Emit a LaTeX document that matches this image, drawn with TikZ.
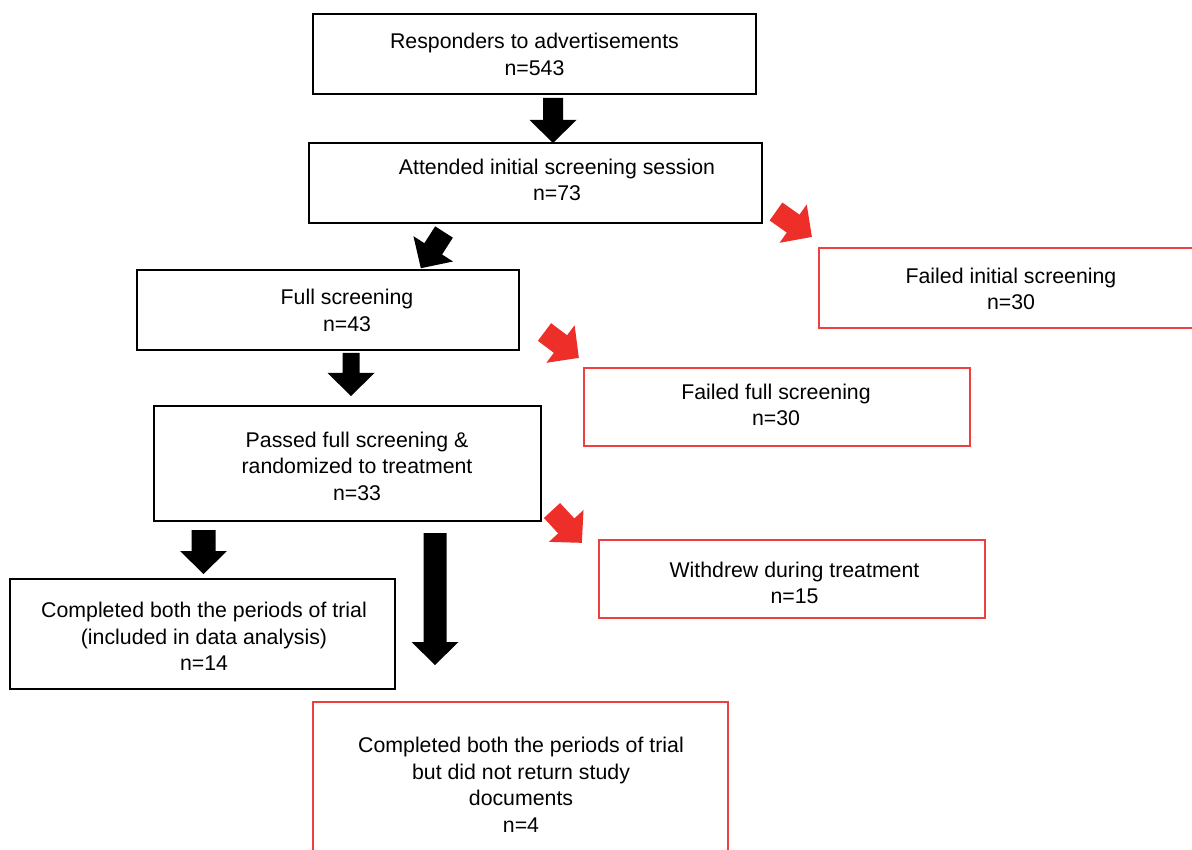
\documentclass[tikz,border=0pt]{standalone}
\usepackage{fontspec}
\setmainfont{Liberation Sans}
\definecolor{arrowred}{HTML}{EE2E28}
\definecolor{boxred}{HTML}{EE4040}
\tikzset{
  box/.style={draw=black, line width=1.3pt, rectangle, inner sep=0pt},
  redbox/.style={draw=boxred, line width=1.2pt, rectangle, inner sep=0pt},
  lbl/.style={align=center, inner sep=0pt, font=\fontsize{21.3}{26.5}\selectfont},
  pics/blockarrow/.style args={#1/#2}{code={
    \path[pic actions] (0,-#2) -- ({#1-23},-#2) -- ({#1-23},-23.5) -- (#1,0)
      -- ({#1-23},23.5) -- ({#1-23},#2) -- (0,#2) -- cycle;
  }},
  blk/.style={fill=black, draw=none},
  rdk/.style={fill=arrowred, draw=none},
}
\begin{document}
\begin{tikzpicture}[x=1pt,y=1pt]
\clip (0,0) rectangle (1192,-850);
\fill[white] (0,0) rectangle (1192,-850);
% boxes
\node[box, minimum width=443pt, minimum height=80pt] (b1) at (534.5,-54) {};
\node[box, minimum width=453pt, minimum height=80pt] (b2) at (535.5,-183) {};
\node[redbox, minimum width=381pt, minimum height=80pt] (b3) at (1009.5,-288) {};
\node[box, minimum width=382pt, minimum height=80pt] (b4) at (328,-310) {};
\node[redbox, minimum width=386pt, minimum height=78pt] (b5) at (777,-407) {};
\node[box, minimum width=387pt, minimum height=115pt] (b6) at (347.5,-463.5) {};
\node[redbox, minimum width=386pt, minimum height=78pt] (b7) at (792,-579) {};
\node[box, minimum width=385pt, minimum height=110pt] (b8) at (202.5,-634) {};
\node[redbox, minimum width=415pt, minimum height=158pt] (b9) at (520.5,-781) {};
% labels
\node[lbl] (t1) at (534.5,-54.5) {Responders to advertisements\\n=543};
\node[lbl] (t2) at (557,-180) {Attended initial screening session\\n=73};
\node[lbl] (t3) at (1011,-289) {Failed initial screening\\n=30};
\node[lbl] (t4) at (347,-310.5) {Full screening\\n=43};
\node[lbl] (t5) at (776,-405) {Failed full screening\\n=30};
\node[lbl] (t6) at (357,-466) {Passed full screening \&\\randomized to treatment\\n=33};
\node[lbl] (t7) at (794.5,-583) {Withdrew during treatment\\n=15};
\node[lbl] (t8) at (204,-636.5) {Completed both the periods of trial\\(included in data analysis)\\n=14};
\node[lbl] (t9) at (521,-785) {Completed both the periods of trial\\but did not return study\\documents\\n=4};
% block arrows
\pic[blk, rotate=-90] (a1) at (553,-98) {blockarrow=45/10};
\pic[blk, rotate=-122.6] (a2) at (444,-232) {blockarrow=43/10.5};
\pic[rdk, rotate=-35.3] (a3) at (776,-211.5) {blockarrow=44/11};
\pic[rdk, rotate=-37] (a4) at (544.5,-332) {blockarrow=43/11};
\pic[blk, rotate=-90] (a5) at (351,-353) {blockarrow=43/8.5};
\pic[rdk, rotate=-47.3] (a6) at (552,-510.5) {blockarrow=44/11};
\pic[blk, rotate=-90] (a7) at (203.5,-530) {blockarrow=44/12};
\pic[blk, rotate=-90] (a8) at (435,-533) {blockarrow=132/11.5};
\end{tikzpicture}
\end{document}
